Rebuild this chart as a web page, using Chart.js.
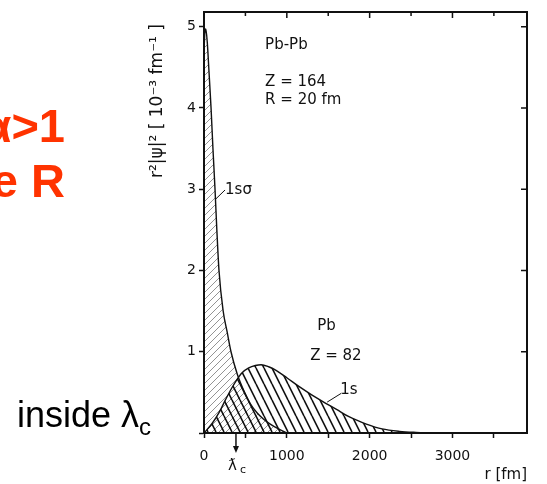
<!DOCTYPE html>
<html>
<head>
<meta charset="utf-8">
<script src="https://cdn.jsdelivr.net/npm/chart.js@4"></script>
<style>
  html, body { margin: 0; padding: 0; background: #fff; }
  #wrap { position: relative; width: 547px; height: 484px; overflow: hidden; }
  #chart { position: absolute; left: 0; top: 0; }
  .slide { position: absolute; font-family: "Liberation Sans", Arial, sans-serif; white-space: nowrap; }
  .red { color: #ff3300; font-weight: bold; font-size: 47px; line-height: 47px; text-align: right; }
  #inside { left: 17px; top: 397px; font-size: 36px; line-height: 36px; color: #000; }
  #inside span { font-size: 24px; position: relative; top: 8px; }
</style>
</head>
<body>
<div id="wrap">
  <canvas id="chart" width="547" height="484"></canvas>
  <div class="slide red" style="left:-100px; width:165px; top:102px;">α&gt;1</div>
  <div class="slide red" style="left:-100px; width:165px; top:157px;">e R</div>
  <div class="slide" id="inside">inside λ<span>c</span></div>
</div>
<script>
// radial densities r^2|psi|^2 in 10^-3 fm^-1, r in fm
const sigmaR = [0, 10, 22, 40, 60, 85, 108, 133, 155, 181, 230, 280, 326, 400, 490, 560, 640, 720, 800, 900, 1000];
const sigmaY = [4.7, 4.92, 4.97, 4.8, 4.45, 4.0, 3.5, 3.0, 2.5, 2.0, 1.51, 1.24, 1.0, 0.73, 0.5, 0.36, 0.25, 0.17, 0.11, 0.05, 0.0];
const onesR = [0, 100, 181, 260, 339, 400, 460, 540, 620, 690, 780, 870, 1000, 1150, 1300, 1430, 1600, 1750, 1960, 2150, 2360, 2560, 2750];
const onesY = [0, 0.12, 0.25, 0.41, 0.56, 0.66, 0.74, 0.8, 0.83, 0.84, 0.815, 0.77, 0.68, 0.57, 0.47, 0.39, 0.29, 0.2, 0.11, 0.05, 0.02, 0.007, 0];

const xTickValues = [0, 500, 1000, 1500, 2000, 2500, 3000, 3500];
const xTickLabels = [0, 1000, 2000, 3000];
const yTickValues = [0, 1, 2, 3, 4, 5];
const yTickLabels = [1, 2, 3, 4, 5];
const lambdaC = 386; // reduced Compton wavelength of the electron, fm

// text placed in data space
const notes = [
  { text: 'Pb-Pb', r: 738, v: 4.77 },
  { text: 'Z = 164', r: 738, v: 4.32 },
  { text: 'R = 20 fm', r: 738, v: 4.10 },
  { text: 'Pb', r: 1366, v: 1.32 },
  { text: 'Z = 82', r: 1282, v: 0.94 },
  { text: '1sσ', r: 254, v: 2.99 },
  { text: '1s', r: 1644, v: 0.53 }
];
const leaders = [
  [133, 2.87, 254, 2.99],
  [1487, 0.38, 1660, 0.49]
];

function hatch(w, h, dir, color, lw) {
  const c = document.createElement('canvas');
  c.width = w; c.height = h;
  const g = c.getContext('2d');
  g.strokeStyle = color;
  g.lineWidth = lw;
  g.beginPath();
  for (let k = -1; k <= 1; k++) {
    if (dir === 'back') { g.moveTo(k * w, 0); g.lineTo(k * w + w, h); }
    else { g.moveTo(k * w, h); g.lineTo(k * w + w, 0); }
  }
  g.stroke();
  return g.createPattern(c, 'repeat');
}

const ink = '#111';
const font = "'DejaVu Sans', sans-serif";
Chart.defaults.font.family = font;
Chart.defaults.color = ink;

// fixed tick positions, labels only on the listed values
function useTicks(values) {
  return s => { s.ticks = values.map(v => ({ value: v })); };
}
function labelFrom(list) {
  return (v, i, ticks) => {
    const val = ticks && ticks[i] ? ticks[i].value : v;
    return list.indexOf(val) >= 0 ? String(val) : '';
  };
}

const extras = {
  id: 'extras',
  afterDraw(chart) {
    const { ctx, chartArea: a, scales: { x, y } } = chart;
    ctx.save();
    ctx.strokeStyle = ink;
    ctx.fillStyle = ink;

    // top and right frame with inward ticks
    ctx.lineWidth = 2;
    ctx.beginPath();
    ctx.moveTo(a.left, a.top);
    ctx.lineTo(a.right, a.top);
    ctx.lineTo(a.right, a.bottom);
    ctx.stroke();
    ctx.lineWidth = 1.5;
    ctx.beginPath();
    x.ticks.forEach(t => {
      const px = x.getPixelForValue(t.value);
      const len = t.value % 1000 === 0 ? 6 : 4;
      ctx.moveTo(px, a.top);
      ctx.lineTo(px, a.top + len);
    });
    y.ticks.forEach(t => {
      const py = y.getPixelForValue(t.value);
      ctx.moveTo(a.right, py);
      ctx.lineTo(a.right - 6, py);
    });
    ctx.stroke();

    // labels and leader lines
    ctx.font = '15px ' + font;
    ctx.textAlign = 'left';
    ctx.textBaseline = 'middle';
    notes.forEach(n => ctx.fillText(n.text, x.getPixelForValue(n.r), y.getPixelForValue(n.v)));
    ctx.lineWidth = 1;
    ctx.beginPath();
    leaders.forEach(([r0, v0, r1, v1]) => {
      ctx.moveTo(x.getPixelForValue(r0), y.getPixelForValue(v0));
      ctx.lineTo(x.getPixelForValue(r1), y.getPixelForValue(v1));
    });
    ctx.stroke();

    // Compton wavelength marker below the axis
    const lx = x.getPixelForValue(lambdaC);
    ctx.lineWidth = 1.5;
    ctx.beginPath();
    ctx.moveTo(lx, a.bottom);
    ctx.lineTo(lx, a.bottom + 17);
    ctx.stroke();
    ctx.beginPath();
    ctx.moveTo(lx - 3, a.bottom + 13);
    ctx.lineTo(lx + 3, a.bottom + 13);
    ctx.lineTo(lx, a.bottom + 20);
    ctx.closePath();
    ctx.fill();
    ctx.font = '15px ' + font;
    ctx.fillText('ƛ', lx - 8, a.bottom + 33);
    ctx.font = '11px ' + font;
    ctx.fillText('c', lx + 4, a.bottom + 37);

    // vertical axis title
    ctx.translate(158, 101);
    ctx.rotate(-Math.PI / 2);
    ctx.font = '17px ' + font;
    ctx.textAlign = 'center';
    ctx.fillText('r²|ψ|² [ 10⁻³ fm⁻¹ ]', 0, 0);
    ctx.restore();
  }
};

new Chart(document.getElementById('chart'), {
  type: 'line',
  data: {
    datasets: [
      {
        label: '1sσ',
        data: sigmaR.map((r, i) => ({ x: r, y: sigmaY[i] })),
        borderColor: ink,
        borderWidth: 1.4,
        backgroundColor: hatch(7, 7, 'fwd', 'rgba(0,0,0,0.42)', 1),
        fill: 'origin',
        pointRadius: 0,
        cubicInterpolationMode: 'monotone'
      },
      {
        label: '1s',
        data: onesR.map((r, i) => ({ x: r, y: onesY[i] })),
        borderColor: ink,
        borderWidth: 1.4,
        backgroundColor: hatch(8, 16, 'back', ink, 1.6),
        fill: 'origin',
        pointRadius: 0,
        cubicInterpolationMode: 'monotone'
      }
    ]
  },
  options: {
    responsive: false,
    animation: false,
    layout: { padding: { left: 0, right: 20, top: 12, bottom: 0 } },
    plugins: { legend: { display: false }, tooltip: { enabled: false } },
    scales: {
      x: {
        type: 'linear',
        min: 0,
        max: 3900,
        afterBuildTicks: useTicks(xTickValues),
        ticks: {
          autoSkip: false,
          maxRotation: 0,
          minRotation: 0,
          padding: 10,
          font: { size: 14 },
          callback: labelFrom(xTickLabels)
        },
        grid: { drawOnChartArea: false, tickLength: 5, tickWidth: 1.5, tickColor: ink },
        border: { color: ink, width: 2 },
        title: { display: true, text: 'r [fm]', align: 'end', font: { size: 15 }, padding: 0 },
        afterFit: s => { s.height = 51; }
      },
      y: {
        min: 0,
        max: 5.18,
        afterBuildTicks: useTicks(yTickValues),
        ticks: {
          autoSkip: false,
          padding: 3,
          font: { size: 14 },
          callback: labelFrom(yTickLabels)
        },
        grid: { drawOnChartArea: false, tickLength: 5, tickWidth: 1.5, tickColor: ink },
        border: { color: ink, width: 2 },
        afterFit: s => { s.width = 204; }
      }
    }
  },
  plugins: [extras]
});
</script>
</body>
</html>
